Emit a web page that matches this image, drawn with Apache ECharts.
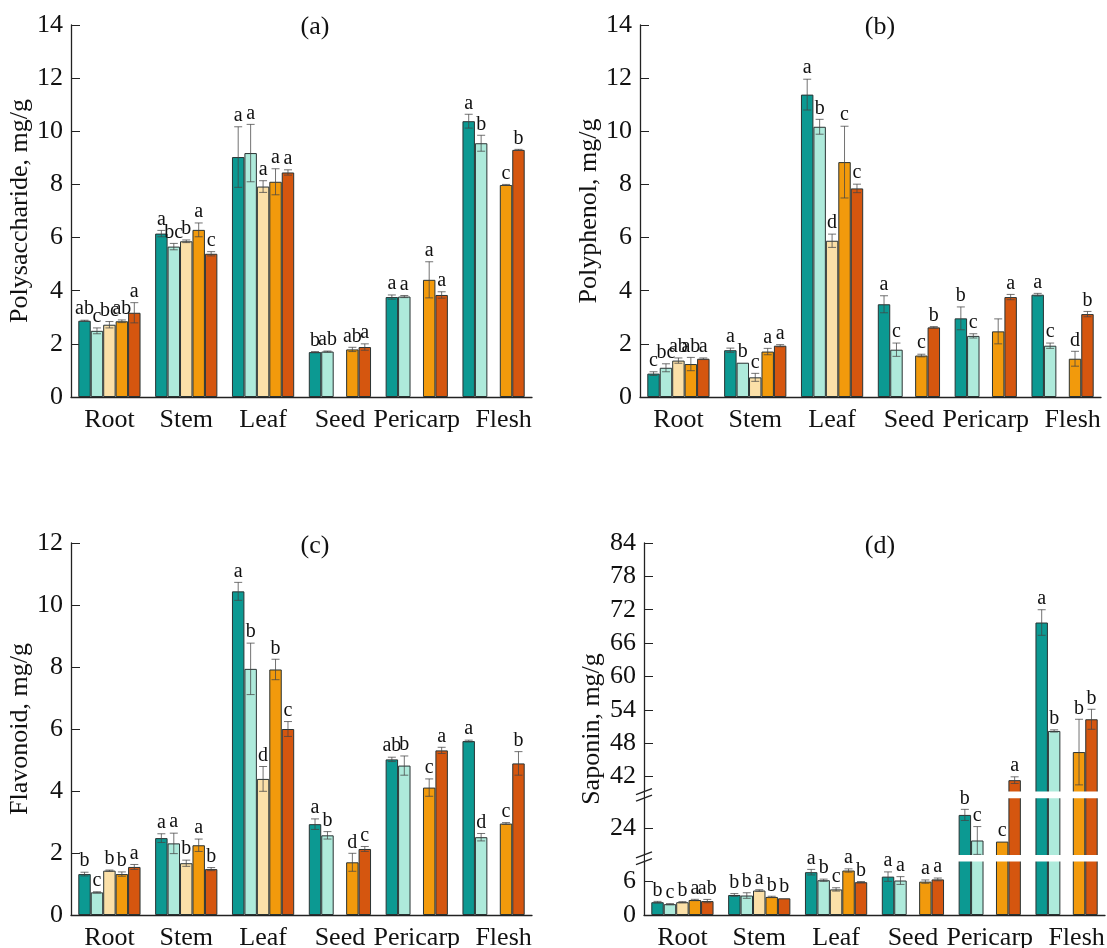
<!DOCTYPE html>
<html>
<head>
<meta charset="utf-8">
<title>Content of polysaccharide, polyphenol, flavonoid and saponin by organ</title>
<script src="https://cdn.jsdelivr.net/npm/echarts@6/dist/echarts.min.js"></script>
<style>
  html, body { margin: 0; padding: 0; background: #fff; }
  #chart { width: 1107px; height: 948px; }
</style>
</head>
<body>
<div id="chart"></div>
<script>
const categories = ['Root', 'Stem', 'Leaf', 'Seed', 'Pericarp', 'Flesh'];

// rows follow categories, columns are the five samples (null = not measured)
const polysaccharideMean = [
  [2.87, 2.49, 2.72, 2.85, 3.17],
  [6.15, 5.66, 5.86, 6.29, 5.39],
  [9.03, 9.18, 7.92, 8.10, 8.45],
  [1.69, 1.71, null, 1.79, 1.88],
  [3.76, 3.78, null, 4.41, 3.84],
  [10.38, 9.55, null, 7.98, 9.30]
];
const polysaccharideErr = [
  [0.02, 0.11, 0.12, 0.05, 0.38],
  [0.12, 0.12, 0.05, 0.26, 0.08],
  [1.14, 1.08, 0.22, 0.49, 0.10],
  [0.02, 0.02, null, 0.08, 0.12],
  [0.08, 0.04, null, 0.68, 0.12],
  [0.26, 0.30, null, 0.02, 0.02]
];
const polysaccharideLetters = [
  ['ab', 'c', 'bc', 'ab', 'a'],
  ['a', 'bc', 'b', 'a', 'c'],
  ['a', 'a', 'a', 'a', 'a'],
  ['b', 'ab', '', 'ab', 'a'],
  ['a', 'a', '', 'a', 'a'],
  ['a', 'b', '', 'c', 'b']
];

const polyphenolMean = [
  [0.88, 1.10, 1.37, 1.24, 1.44],
  [1.76, 1.29, 0.74, 1.71, 1.93],
  [11.38, 10.17, 5.88, 8.84, 7.85],
  [3.49, 1.78, null, 1.56, 2.62],
  [2.96, 2.30, null, 2.47, 3.76],
  [3.85, 1.93, null, 1.44, 3.12]
];
const polyphenolErr = [
  [0.07, 0.15, 0.10, 0.25, 0.03],
  [0.08, 0.00, 0.15, 0.12, 0.04],
  [0.58, 0.28, 0.25, 1.35, 0.16],
  [0.32, 0.25, null, 0.05, 0.03],
  [0.43, 0.08, null, 0.47, 0.10],
  [0.05, 0.10, null, 0.28, 0.10]
];
const polyphenolLetters = [
  ['c', 'bc', 'ab', 'ab', 'a'],
  ['a', 'b', 'c', 'a', 'a'],
  ['a', 'b', 'd', 'c', 'c'],
  ['a', 'c', '', 'c', 'b'],
  ['b', 'c', '', '', 'a'],
  ['a', 'c', '', 'd', 'b']
];

const flavonoidMean = [
  [1.32, 0.73, 1.43, 1.32, 1.55],
  [2.48, 2.31, 1.67, 2.25, 1.48],
  [10.44, 7.94, 4.39, 7.92, 6.00],
  [2.93, 2.57, null, 1.70, 2.13],
  [5.02, 4.82, null, 4.11, 5.31],
  [5.61, 2.51, null, 2.95, 4.89]
];
const flavonoidErr = [
  [0.06, 0.02, 0.02, 0.07, 0.08],
  [0.14, 0.33, 0.10, 0.20, 0.05],
  [0.29, 0.83, 0.40, 0.33, 0.24],
  [0.17, 0.12, null, 0.29, 0.08],
  [0.07, 0.31, null, 0.28, 0.10],
  [0.03, 0.12, null, 0.03, 0.38]
];
const flavonoidLetters = [
  ['b', 'c', 'b', 'b', 'a'],
  ['a', 'a', 'b', 'a', 'b'],
  ['a', 'b', 'd', 'b', 'c'],
  ['a', 'b', '', 'd', 'c'],
  ['ab', 'b', '', 'c', 'a'],
  ['a', 'd', '', 'c', 'b']
];

const saponinMean = [
  [2.30, 1.95, 2.30, 2.70, 2.50],
  [3.60, 3.50, 4.40, 3.25, 3.00],
  [7.70, 6.25, 4.60, 8.00, 5.90],
  [6.90, 6.20, null, 6.00, 6.40],
  [26.4, 21.8, null, 21.6, 41.35],
  [69.7, 50.2, null, 46.4, 52.3]
];
const saponinErr = [
  [0.15, 0.10, 0.10, 0.12, 0.30],
  [0.25, 0.50, 0.15, 0.12, 0.08],
  [0.50, 0.20, 0.30, 0.30, 0.12],
  [0.85, 0.70, null, 0.30, 0.25],
  [1.00, 2.50, null, 0.00, 0.60],
  [2.30, 0.20, null, 5.90, 1.80]
];
const saponinLetters = [
  ['b', 'c', 'b', 'a', 'ab'],
  ['b', 'b', 'a', 'b', 'b'],
  ['a', 'b', 'c', 'a', 'b'],
  ['a', 'a', '', 'a', 'a'],
  ['b', 'c', '', 'c', 'a'],
  ['a', 'b', '', 'b', 'b']
];
const saponinTicks = [0, 6, 24, 42, 48, 54, 60, 66, 72, 78, 84];

// broken axis of panel (d): value ranges cut out, and the white gap left for each
const saponinBreaks = [[9.6, 19.2], [29.4, 39.3]];
const breakGap = 1.2;

const colors = ['#0c9992', '#aeeadb', '#fbe0a8', '#f29a0c', '#d5560f'];
const FONT = 'Liberation Serif';

function toDisp(v) {
  let off = 0;
  for (const [s, e] of saponinBreaks) {
    if (v >= e) off += e - s - breakGap;
    else if (v > s) return s - off;
  }
  return v - off;
}
function fromDisp(d) {
  let off = 0;
  for (const [s, e] of saponinBreaks) {
    if (d > s - off) off += e - s - breakGap;
  }
  return d + off;
}
const same = v => v;

function barSeries(gi, mean, map) {
  return colors.map((col, s) => ({
    type: 'bar',
    xAxisIndex: gi,
    yAxisIndex: gi,
    data: mean.map(row => row[s] == null ? '-' : map(row[s])),
    barGap: '0%',
    barCategoryGap: '19%',
    silent: true,
    itemStyle: { color: col, borderColor: '#2a3333', borderWidth: 1 }
  }));
}

function errorSeries(gi, mean, err, letters, map) {
  const items = [];
  mean.forEach((row, c) => row.forEach((v, s) => {
    if (v == null) return;
    const e = err[c][s] || 0;
    items.push({ c: c, s: s, lo: map(v - e), hi: map(v + e), letter: letters[c][s] });
  }));
  return {
    type: 'custom',
    xAxisIndex: gi,
    yAxisIndex: gi,
    z: 5,
    silent: true,
    data: items.map(it => [it.c, it.hi, it.lo]),
    encode: { x: 0, y: [1, 2] },
    renderItem(params, api) {
      const it = items[params.dataIndex];
      const band = api.size([1, 0])[0];
      const groupW = band * 0.81;
      const bw = groupW / 5;
      const top = api.coord([it.c, it.hi]);
      const bot = api.coord([it.c, it.lo]);
      const x = top[0] - groupW / 2 + bw * (it.s + 0.5);
      const ls = { stroke: '#444', lineWidth: 1, opacity: 0.75 };
      const children = [];
      if (bot[1] - top[1] > 1) {
        children.push(
          { type: 'line', shape: { x1: x, y1: top[1], x2: x, y2: bot[1] }, style: ls },
          { type: 'line', shape: { x1: x - 4, y1: top[1], x2: x + 4, y2: top[1] }, style: ls },
          { type: 'line', shape: { x1: x - 4, y1: bot[1], x2: x + 4, y2: bot[1] }, style: ls }
        );
      }
      if (it.letter) {
        children.push({
          type: 'text',
          x: x,
          y: top[1] - 1,
          style: { text: it.letter, align: 'center', verticalAlign: 'bottom', font: '20px "' + FONT + '"', fill: '#111' }
        });
      }
      return { type: 'group', children: children };
    }
  };
}

// white bands through the bars and the // marks on the axis of panel (d)
function breakSeries(gi) {
  let off = 0;
  const gaps = saponinBreaks.map(([s, e]) => {
    const g = [0, s - off, s - off + breakGap];
    off += e - s - breakGap;
    return g;
  });
  return {
    type: 'custom',
    xAxisIndex: gi,
    yAxisIndex: gi,
    z: 4,
    silent: true,
    data: gaps,
    encode: { x: 0, y: [1, 2] },
    renderItem(params, api) {
      const cs = params.coordSys;
      const y0 = api.coord([0, api.value(1)])[1];
      const y1 = api.coord([0, api.value(2)])[1];
      const ls = { stroke: '#222', lineWidth: 1.3 };
      return {
        type: 'group',
        children: [
          { type: 'rect', shape: { x: cs.x + 1, y: y1, width: cs.width, height: y0 - y1 }, style: { fill: '#fff' } },
          { type: 'line', shape: { x1: cs.x - 8, y1: y0 + 3, x2: cs.x + 8, y2: y0 - 3 }, style: ls },
          { type: 'line', shape: { x1: cs.x - 8, y1: y1 + 3, x2: cs.x + 8, y2: y1 - 3 }, style: ls }
        ]
      };
    }
  };
}

const grids = [
  { left: 71, top: 25, width: 461, height: 372 },
  { left: 640, top: 25, width: 461, height: 372 },
  { left: 71, top: 543, width: 461, height: 372 },
  { left: 644, top: 543, width: 461, height: 372 }
];

const axisLine = { show: true, lineStyle: { color: '#222', width: 1.3 } };
const labelStyle = { fontSize: 26, color: '#111', fontFamily: FONT };

function yAxis(gi, name, gap, extra) {
  return Object.assign({
    type: 'value',
    gridIndex: gi,
    name: name,
    nameLocation: 'middle',
    nameGap: gap,
    nameTextStyle: labelStyle,
    axisLine: axisLine,
    axisTick: { show: true, inside: true, length: 9, lineStyle: { color: '#222' } },
    axisLabel: labelStyle,
    splitLine: { show: false }
  }, extra);
}

const chart = echarts.init(document.getElementById('chart'));
chart.setOption({
  animation: false,
  backgroundColor: '#fff',
  textStyle: { fontFamily: FONT },
  title: [
    { text: '(a)', left: 315, top: 14 },
    { text: '(b)', left: 880, top: 14 },
    { text: '(c)', left: 315, top: 533 },
    { text: '(d)', left: 880, top: 533 }
  ].map(t => Object.assign(t, {
    textAlign: 'center',
    padding: 0,
    textStyle: { fontSize: 26, fontWeight: 'normal', color: '#111', fontFamily: FONT }
  })),
  grid: grids.map(g => Object.assign({ outerBoundsMode: 'none', containLabel: false }, g)),
  xAxis: grids.map((g, i) => ({
    type: 'category',
    gridIndex: i,
    data: categories,
    axisLine: axisLine,
    axisTick: { show: false },
    axisLabel: Object.assign({
      interval: 0,
      margin: 10,
      // the last label sits a little right of its bars in the original
      formatter: v => v === 'Flesh' ? '{f|' + v + '}' : v,
      rich: { f: { fontSize: 26, color: '#111', fontFamily: FONT, padding: [0, 0, 0, 20] } }
    }, labelStyle)
  })),
  yAxis: [
    yAxis(0, 'Polysaccharide, mg/g', 36, { min: 0, max: 14, interval: 2 }),
    yAxis(1, 'Polyphenol, mg/g', 35, { min: 0, max: 14, interval: 2 }),
    yAxis(2, 'Flavonoid, mg/g', 36, { min: 0, max: 12, interval: 2 }),
    yAxis(3, 'Saponin, mg/g', 39, {
      min: 0,
      max: toDisp(84),
      axisTick: {
        show: true, inside: true, length: 9, lineStyle: { color: '#222' },
        customValues: saponinTicks.map(toDisp)
      },
      axisLabel: Object.assign({
        customValues: saponinTicks.map(toDisp),
        formatter: d => String(Math.round(fromDisp(d)))
      }, labelStyle)
    })
  ],
  series: [].concat(
    barSeries(0, polysaccharideMean, same),
    barSeries(1, polyphenolMean, same),
    barSeries(2, flavonoidMean, same),
    barSeries(3, saponinMean, toDisp),
    [breakSeries(3)],
    [errorSeries(0, polysaccharideMean, polysaccharideErr, polysaccharideLetters, same)],
    [errorSeries(1, polyphenolMean, polyphenolErr, polyphenolLetters, same)],
    [errorSeries(2, flavonoidMean, flavonoidErr, flavonoidLetters, same)],
    [errorSeries(3, saponinMean, saponinErr, saponinLetters, toDisp)]
  )
});
</script>
</body>
</html>
